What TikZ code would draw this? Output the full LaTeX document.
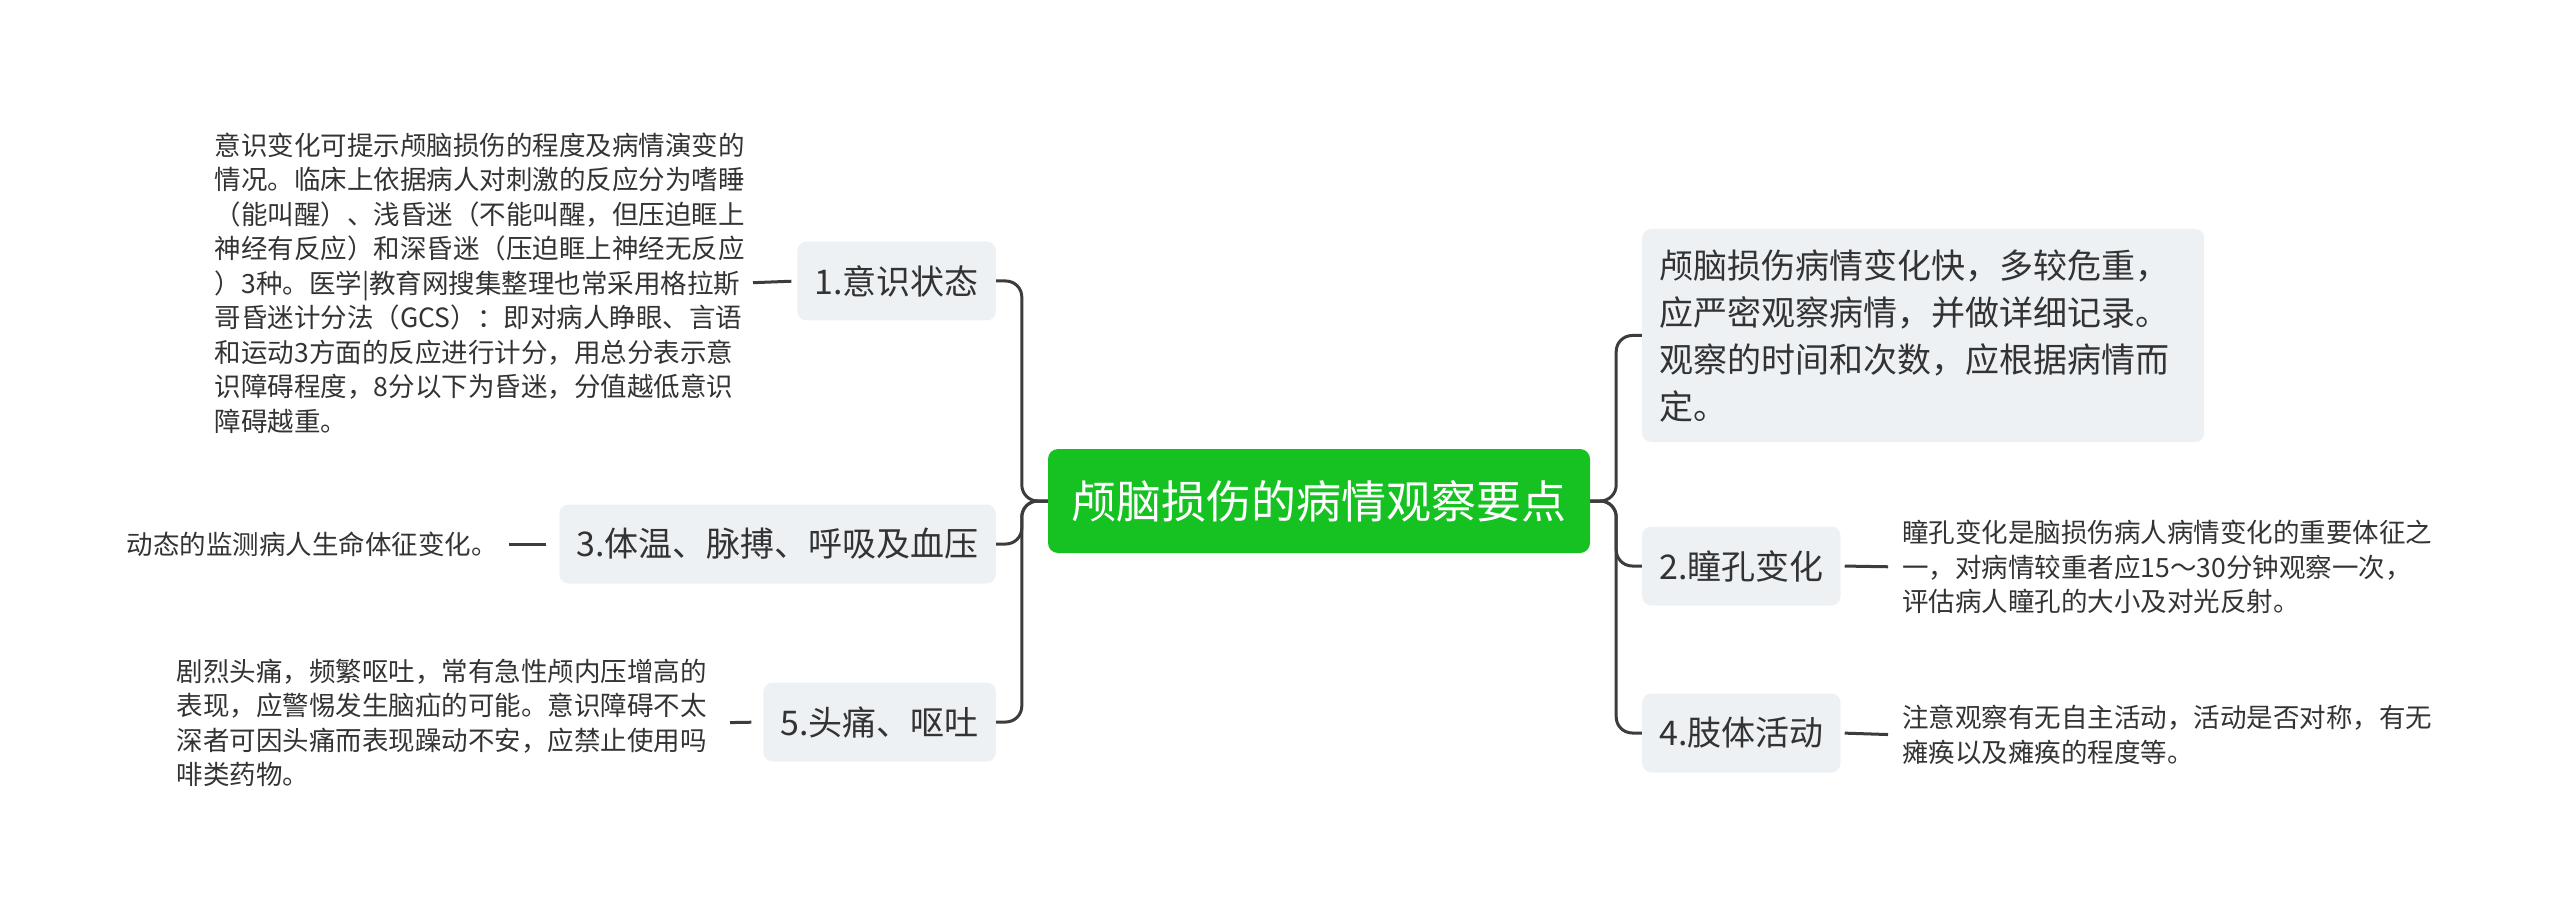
\documentclass[tikz,border=0pt]{standalone}
\usepackage{fontspec}
\setmainfont{Noto Sans CJK SC}
\usetikzlibrary{backgrounds}
\definecolor{rootgreen}{RGB}{22,193,34}
\definecolor{topicgray}{RGB}{238,241,244}
\definecolor{textdark}{RGB}{51,51,51}
\definecolor{linegray}{RGB}{60,60,60}
\begin{document}
\begin{tikzpicture}[x=1pt,y=-1pt,
  root/.style={fill=rootgreen, text=white, rounded corners=10pt, font=\fontsize{45}{54}\selectfont, minimum width=542pt, minimum height=104pt, inner sep=0pt},
  topic/.style={fill=topicgray, text=textdark, rounded corners=9pt, font=\fontsize{34}{47}\selectfont, minimum height=79pt, inner xsep=17pt, inner ysep=0pt},
  leaf/.style={text=textdark, font=\fontsize{26.5}{34.5}\selectfont, align=left, inner sep=0pt},
  conn/.style={draw=linegray, line width=3pt},
  branch/.style={conn, rounded corners=16pt}]
\useasboundingbox (0,0) rectangle (2560,917);

\node[root] (root) at (1319,501) {颅脑损伤的病情观察要点};

\node[topic, anchor=west, text width=528pt, align=left, minimum height=213pt, font=\fontsize{34}{47}\selectfont] (r0) at (1642,335.5) {颅脑损伤病情变化快，多较危重，\\应严密观察病情，并做详细记录。\\观察的时间和次数，应根据病情而\\定。};
\node[topic, anchor=west] (n2) at (1642,566) {2.瞳孔变化};
\node[topic, anchor=west] (n4) at (1642,733) {4.肢体活动};
\node[topic, anchor=east] (n1) at (996,281) {1.意识状态};
\node[topic, anchor=east] (n3) at (996,544) {3.体温、脉搏、呼吸及血压};
\node[topic, anchor=east] (n5) at (996,722) {5.头痛、呕吐};

\node[leaf, anchor=east] (l1) at (745,283) {意识变化可提示颅脑损伤的程度及病情演变的\\情况。临床上依据病人对刺激的反应分为嗜睡\\（能叫醒）、浅昏迷（不能叫醒，但压迫眶上\\神经有反应）和深昏迷（压迫眶上神经无反应\\）3种。医学|教育网搜集整理也常采用格拉斯\\哥昏迷计分法（GCS）：即对病人睁眼、言语\\和运动3方面的反应进行计分，用总分表示意\\识障碍程度，8分以下为昏迷，分值越低意识\\障碍越重。};
\node[leaf, anchor=east] (l3) at (498,544) {动态的监测病人生命体征变化。};
\node[leaf, anchor=east] (l5) at (707,723) {剧烈头痛，频繁呕吐，常有急性颅内压增高的\\表现，应警惕发生脑疝的可能。意识障碍不太\\深者可因头痛而表现躁动不安，应禁止使用吗\\啡类药物。};
\node[leaf, anchor=west] (l2) at (1902,567) {瞳孔变化是脑损伤病人病情变化的重要体征之\\一，对病情较重者应15～30分钟观察一次，\\评估病人瞳孔的大小及对光反射。};
\node[leaf, anchor=west] (l4) at (1902,735) {注意观察有无自主活动，活动是否对称，有无\\瘫痪以及瘫痪的程度等。};

\begin{scope}[on background layer]
\draw[branch] (root.west) -- ++(-26,0) |- (n1.east);
\draw[branch] (root.west) -- ++(-26,0) |- (n3.east);
\draw[branch] (root.west) -- ++(-26,0) |- (n5.east);
\draw[branch] (root.east) -- ++(26,0) |- (r0.west);
\draw[branch] (root.east) -- ++(26,0) |- (n2.west);
\draw[branch] (root.east) -- ++(26,0) |- (n4.west);

\draw[conn, shorten <=6pt, shorten >=8pt] (n1.west) -- (l1.east);
\draw[conn, shorten <=13pt, shorten >=11pt] (n3.west) -- (l3.east);
\draw[conn, shorten <=12pt, shorten >=23pt] (n5.west) -- (l5.east);
\draw[conn, shorten <=4pt, shorten >=14pt] (n2.east) -- (l2.west);
\draw[conn, shorten <=4pt, shorten >=14pt] (n4.east) -- (l4.west);
\end{scope}
\end{tikzpicture}
\end{document}
